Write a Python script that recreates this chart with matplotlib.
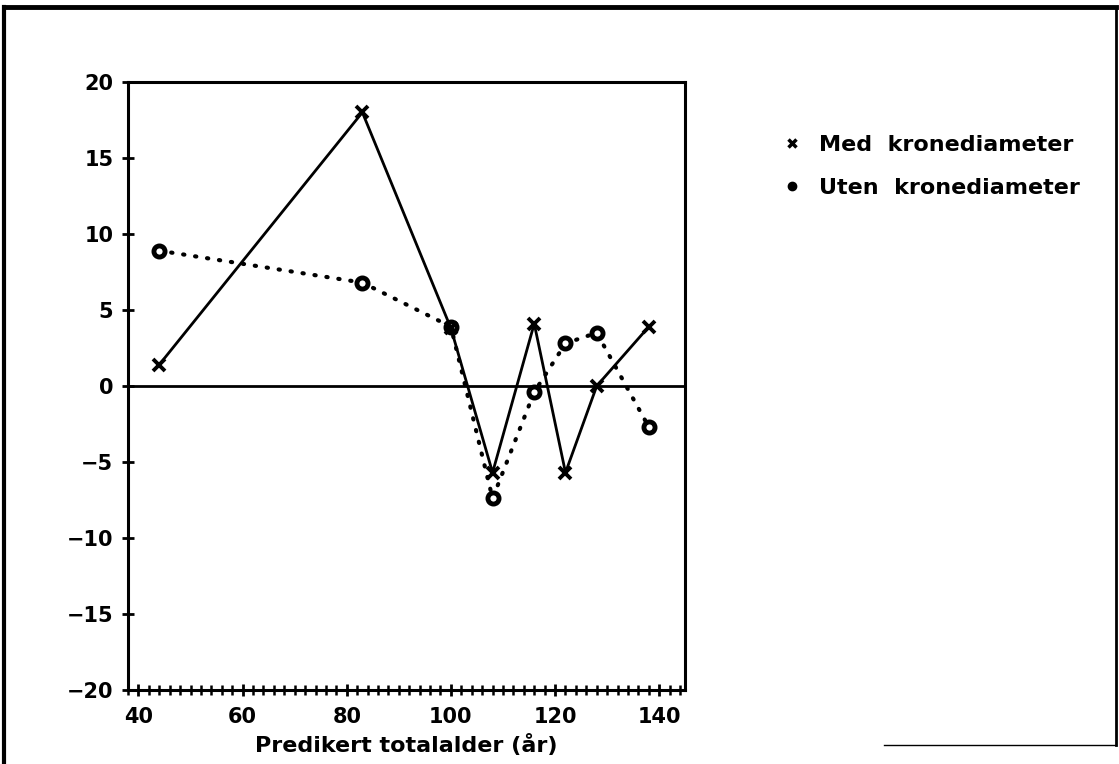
import numpy as np
import matplotlib.pyplot as plt
from matplotlib.lines import Line2D
from matplotlib.ticker import MultipleLocator

# predikert totalalder og avvik for de to modellene
alder = [44, 83, 100, 108, 116, 122, 128, 138]
med_krone = [1.4, 18.0, 3.8, -5.7, 4.1, -5.7, 0.0, 3.9]
uten_krone = [8.9, 6.8, 3.9, -7.4, -0.4, 2.8, 3.5, -2.7]

yticks = [-20, -15, -10, -5, 0, 5, 10, 15, 20]
xticks = [40, 60, 80, 100, 120, 140]

plt.rcParams['font.family'] = 'DejaVu Sans'
plt.rcParams['font.weight'] = 'bold'

fig = plt.figure(figsize=(11.19, 7.64), dpi=100)
ax = fig.add_axes([0.1144, 0.0969, 0.498, 0.7958])

ax.axhline(0, color='black', lw=2.0, zorder=1)
ax.plot(alder, med_krone, color='black', lw=2.0, marker='x', ms=9, mew=2.8, zorder=3)
ax.plot(alder, uten_krone, color='black', lw=3.0, linestyle=(0, (0.3, 2.6)),
        dash_capstyle='round', marker='o', ms=8, mfc='white', mec='black', mew=3.5, zorder=2)

ax.set_xlim(38, 145)
ax.set_ylim(-20, 20)
ax.set_xticks(xticks)
ax.xaxis.set_minor_locator(MultipleLocator(2))
ax.set_yticks(yticks)
ax.set_yticklabels([('\u2212' + str(-v)) if v < 0 else str(v) for v in yticks])

for s in ax.spines.values():
    s.set_linewidth(2.2)
ax.tick_params(axis='both', which='major', direction='inout', length=9, width=2,
               labelsize=15, pad=6)
ax.tick_params(axis='x', which='minor', direction='inout', length=7, width=1.8)
ax.tick_params(axis='x', which='major', pad=8)

ax.set_xlabel('Predikert totalalder (år)', fontsize=16, fontweight='bold', labelpad=5)

# forklaring til hoyre for figuren
handles = [
    Line2D([], [], ls='none', marker='x', ms=6, mew=2.5, color='black'),
    Line2D([], [], ls='none', marker='o', ms=6, mfc='black', mec='black'),
]
fig.legend(handles, ['Med  kronediameter', 'Uten  kronediameter'],
           loc='upper left', bbox_to_anchor=(0.684, 0.85), frameon=False,
           fontsize=16, handlelength=0.6, handletextpad=0.9, labelspacing=1.05)

# ramme rundt siden
fig.add_artist(Line2D([0.004, 0.997], [0.991, 0.991], color='black', lw=3.5,
                      transform=fig.transFigure))
fig.add_artist(Line2D([0.004, 0.004], [0.0, 0.991], color='black', lw=3,
                      transform=fig.transFigure))
fig.add_artist(Line2D([0.997, 0.997], [0.025, 0.991], color='black', lw=2,
                      transform=fig.transFigure))
fig.add_artist(Line2D([0.79, 0.997], [0.025, 0.025], color='black', lw=1,
                      transform=fig.transFigure))

fig.savefig('out.png', dpi=100)
